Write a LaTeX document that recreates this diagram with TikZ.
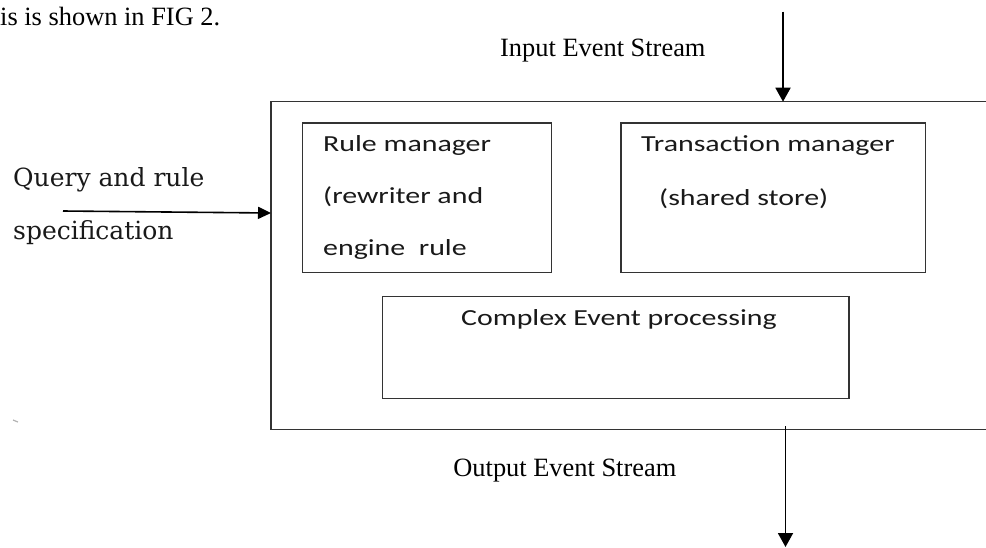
\documentclass[tikz,border=0pt]{standalone}
\usepackage{fontspec}
\setmainfont{Liberation Serif}
\newfontfamily\boxfont[FakeStretch=1.3]{Carlito}
\newfontfamily\qfont{DejaVu Serif}
\usetikzlibrary{arrows.meta}
\begin{document}
\begin{tikzpicture}[x=1pt,y=-1pt,
  box/.style={draw=black!80, line width=1.4pt, inner sep=0pt, outer sep=0pt, anchor=north west},
  lbl/.style={inner sep=0pt, anchor=base west, text=black!90, font=\boxfont\fontsize{23}{23}\selectfont},
  serif/.style={inner sep=0pt, anchor=base west, font=\fontsize{26.4}{26}\selectfont},
  qlbl/.style={inner sep=0pt, anchor=base west, text=black!90, font=\qfont\fontsize{25}{25}\selectfont},
  arr/.style={line width=1.9pt, -{Triangle[length=14pt,width=15pt]}},
  qarr/.style={line width=1.6pt, -{Triangle[length=13pt,width=12pt]}}
]
\useasboundingbox (0,0) rectangle (986,547);
\clip (0,0) rectangle (986,547);

% boxes
\node[box, minimum width=730pt, minimum height=327.6pt] (sys) at (271,101.7) {};
\node[box, minimum width=249pt, minimum height=149.7pt] (rm) at (302.5,123) {};
\node[box, minimum width=304.7pt, minimum height=149.7pt] (tm) at (621,123) {};
\node[box, minimum width=466.3pt, minimum height=101.6pt] (cep) at (382.7,296.7) {};

% box texts
\node[lbl] (rm1) at (323,151.5) {Rule manager};
\node[lbl] (rm2) at (323,203.5) {(rewriter and};
\node[lbl] (rm3) at (323,255) {engine\ \ rule};
\node[lbl] (tm1) at (641,151.5) {Transaction manager};
\node[lbl] (tm2) at (659,205) {(shared store)};
\node[lbl] (cep1) at (461,325) {Complex Event processing};

% serif texts
\node[serif] (fig) at (0,25) {is is shown in FIG 2.};
\node[serif] (in) at (500,56.7) {Input Event Stream};
\node[serif, anchor=base east] (out) at (676.5,476) {Output Event Stream};
\node[qlbl] (q1) at (13,186.7) {Query and rule};
\node[qlbl] (q2) at (13,239.5) {specification};

% connectors
\coordinate (inS) at (783,11.7);
\coordinate (outE) at (785.5,547);
\coordinate (qS) at (63,211);
\draw[arr] (inS) -- (inS |- sys.north);
\draw[arr] ([yshift=3pt]outE |- sys.south) -- (outE);
\draw[qarr] (qS) -- ([yshift=-2pt]qS -| sys.west);

% small mark
\draw[black!30, line width=1.2pt] (13,420) -- (18,422);
\end{tikzpicture}
\end{document}
